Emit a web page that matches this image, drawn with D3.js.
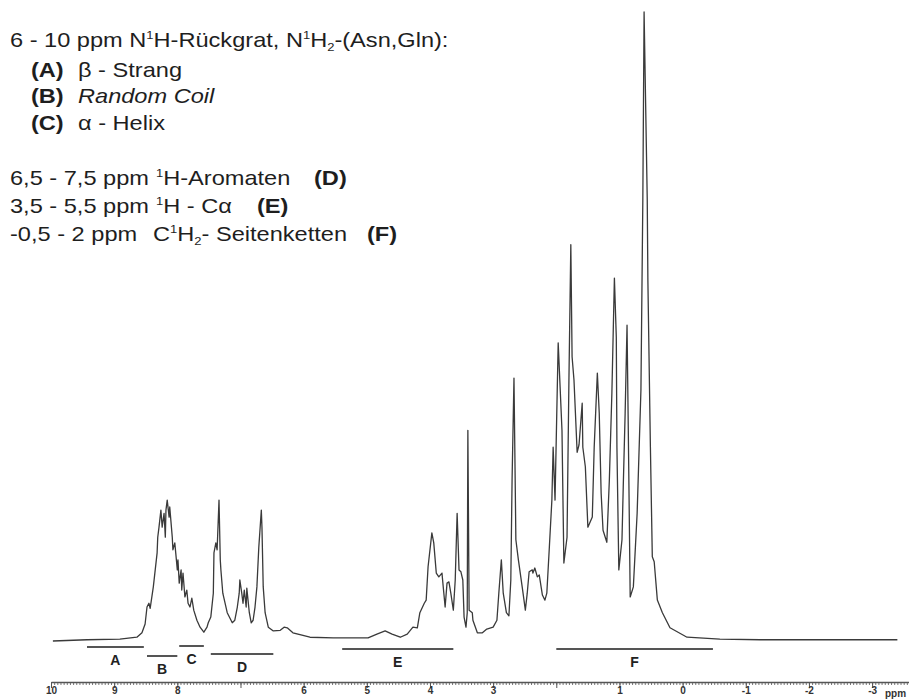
<!DOCTYPE html>
<html>
<head>
<meta charset="utf-8">
<script src="https://cdn.jsdelivr.net/npm/d3@7"></script>
<style>
  body { margin: 0; background: #fff; }
  svg { display: block; font-family: "Liberation Sans", Arial, sans-serif; }
</style>
</head>
<body>
<svg id="chart"></svg>
<script>
// 1H NMR spectrum (ppm, relative intensity 0..100)
const ppm = [
  9.97, 9.43, 8.91, 8.64, 8.56, 8.51, 8.48, 8.45, 8.43, 8.38, 8.32, 8.31, 8.29, 8.26, 8.24, 8.21,
  8.19, 8.18, 8.16, 8.13, 8.12, 8.08, 8.07, 8.04, 8.00, 7.99, 7.97, 7.94, 7.93, 7.91, 7.88, 7.85,
  7.83, 7.80, 7.77, 7.74, 7.69, 7.64, 7.58, 7.53, 7.51, 7.47, 7.43, 7.42, 7.39, 7.37, 7.34, 7.32,
  7.31, 7.28, 7.21, 7.13, 7.09, 7.05, 7.02, 7.01, 6.98, 6.96, 6.94, 6.91, 6.90, 6.86, 6.83, 6.80,
  6.77, 6.74, 6.71, 6.67, 6.66, 6.64, 6.61, 6.56, 6.48, 6.37, 6.31, 6.26, 6.17, 5.90, 5.53, 4.98,
  4.84, 4.71, 4.60, 4.47, 4.36, 4.27, 4.20, 4.16, 4.09, 4.06, 4.03, 3.97, 3.94, 3.90, 3.86, 3.81,
  3.79, 3.76, 3.73, 3.70, 3.67, 3.63, 3.60, 3.57, 3.54, 3.51, 3.48, 3.46, 3.43, 3.41, 3.40, 3.38,
  3.33, 3.32, 3.25, 3.17, 3.10, 3.00, 2.94, 2.91, 2.87, 2.84, 2.79, 2.75, 2.72, 2.70, 2.67, 2.64,
  2.60, 2.54, 2.49, 2.46, 2.43, 2.38, 2.37, 2.34, 2.30, 2.27, 2.22, 2.18, 2.15, 2.11, 2.07, 2.05,
  2.02, 1.97, 1.91, 1.88, 1.83, 1.80, 1.77, 1.75, 1.72, 1.67, 1.64, 1.59, 1.58, 1.54, 1.50, 1.43,
  1.40, 1.35, 1.32, 1.29, 1.26, 1.20, 1.16, 1.12, 1.08, 1.05, 1.04, 1.01, 0.96, 0.94, 0.91, 0.88,
  0.86, 0.83, 0.78, 0.72, 0.66, 0.63, 0.61, 0.56, 0.55, 0.51, 0.48, 0.45, 0.40, 0.32, 0.20, -0.07,
  -0.59, -1.23, -2.34, -3.40
];
const intensity = [
  0, 0.2, 0.3, 0.6, 1.3, 2.7, 5.4, 6.0, 5.2, 8.6, 14.0, 16.5, 18.1, 20.8, 18.1, 20.3,
  16.5, 20.8, 22.4, 19.7, 21.3, 16.5, 14.5, 15.6, 11.3, 12.9, 9.2, 11.3, 8.1, 10.8, 7.0, 8.1,
  6.0, 5.4, 6.8, 4.9, 3.3, 2.2, 1.4, 2.2, 2.9, 3.8, 7.6, 14.0, 15.6, 14.5, 22.4, 12.9,
  11.3, 7.6, 4.5, 2.9, 3.3, 5.4, 7.6, 9.7, 7.6, 6.0, 8.1, 5.4, 8.4, 4.5, 2.9, 3.3,
  5.4, 8.6, 14.9, 20.8, 18.1, 8.6, 4.5, 2.2, 1.6, 1.7, 2.2, 2.1, 1.3, 0.6, 0.5, 0.5,
  1.1, 1.6, 1.1, 0.6, 1.1, 2.2, 2.1, 4.5, 6.0, 6.5, 11.8, 17.2, 15.6, 10.8, 10.2, 10.8,
  8.6, 5.4, 9.2, 9.4, 7.6, 4.9, 9.7, 20.3, 11.3, 11.0, 9.7, 3.8, 2.2, 4.5, 33.5, 4.9,
  4.5, 3.3, 1.3, 1.3, 1.9, 2.2, 3.3, 7.6, 12.9, 7.6, 4.5, 4.0, 9.7, 25.6, 41.8, 16.1,
  12.9, 8.6, 4.9, 7.6, 11.0, 11.3, 10.8, 11.6, 10.2, 10.5, 7.3, 6.5, 7.6, 14.9, 22.4, 30.8,
  22.4, 47.4, 33.5, 12.4, 16.5, 41.5, 63.0, 45.2, 41.5, 30.0, 31.2, 37.8, 30.8, 27.7, 18.1, 19.7,
  30.8, 42.6, 36.2, 23.5, 17.6, 15.7, 25.6, 39.4, 57.7, 48.3, 30.8, 11.3, 16.1, 24.5, 36.2, 50.2,
  33.5, 7.0, 8.6, 20.3, 39.9, 70.1, 100, 70.1, 57.4, 30.8, 13.4, 12.6, 6.5, 4.5, 2.1, 0.6,
  0.3, 0.2, 0.2, 0.2
];

const majorTicks = [10, 9, 8, 7, 6, 5, 4, 3, 2, 1, 0, -1, -2, -3];
const tickLabels = ['10', '9', '8', '', '6', '5', '4', '3', '', '1', '0', '-1', '-2', '-3'];

const regionNames = ['A', 'B', 'C', 'D', 'E', 'F'];
const regionFrom  = [9.43, 8.48, 7.97, 7.47, 5.39, 2.00];
const regionTo    = [8.53, 8.00, 7.58, 6.48, 3.63, -0.48];

const W = 909, H = 700;
const svg = d3.select('#chart').attr('width', W).attr('height', H);

const x = d3.scaleLinear().domain([10, -3.6]).range([51, 910]);
const y = d3.scaleLinear().domain([0, 100]).range([641, 12]);

// spectrum trace
const pts = ppm.map((p, i) => [p, intensity[i]]);
svg.append('path').datum(pts)
  .attr('d', d3.line().x(d => x(d[0])).y(d => y(d[1])))
  .attr('fill', 'none').attr('stroke', '#3a3a3a').attr('stroke-width', 1.3)
  .attr('stroke-linejoin', 'round');

// region bars + letters (staggered rows like the original)
const tier = { A: 0, B: 9, C: -1, D: 7, E: 2, F: 2 };
regionNames.forEach((n, i) => {
  const yy = 647 + tier[n];
  svg.append('line')
    .attr('x1', x(regionFrom[i])).attr('x2', x(regionTo[i]))
    .attr('y1', yy).attr('y2', yy)
    .attr('stroke', '#555').attr('stroke-width', 2);
  svg.append('text')
    .attr('x', (x(regionFrom[i]) + x(regionTo[i])) / 2).attr('y', yy + 18)
    .attr('text-anchor', 'middle').attr('font-size', 14).attr('font-weight', 'bold')
    .attr('fill', '#222').text(n);
});

// ppm axis: fine ticks every 0.05, major at integers
const minor = d3.range(200, -73, -1).map(v => v / 20);
const axisY = 682;
svg.append('g').attr('transform', `translate(0,${axisY})`)
  .call(d3.axisBottom(x).tickValues(minor).tickSize(3).tickFormat(''))
  .call(g => g.select('.domain').remove())
  .selectAll('line').attr('stroke', '#777');
const ax = svg.append('g').attr('transform', `translate(0,${axisY})`)
  .call(d3.axisBottom(x).tickValues(majorTicks).tickSize(6).tickSizeOuter(0)
    .tickFormat((d, i) => tickLabels[i]));
ax.select('.domain').attr('stroke', '#555').attr('stroke-width', 1.3);
ax.selectAll('.tick line').attr('stroke', '#555');
ax.selectAll('.tick text').attr('font-size', 10).attr('font-weight', 'bold')
  .attr('fill', '#333').attr('dy', '0.3em')
  .attr('font-family', '"Liberation Sans", Arial, sans-serif');
svg.append('text').attr('x', 885).attr('y', 697).attr('font-size', 10)
  .attr('font-weight', 'bold').attr('fill', '#333').text('ppm');

// annotation block (the source lettering is a little wide, so stretch it)
const sx = 1.18;
const notes = svg.append('g').attr('transform', `scale(${sx},1)`);
function line(yPos, parts) {
  const t = notes.append('text').attr('y', yPos).attr('font-size', 20).attr('fill', '#1e1e1e');
  let off = 0;
  parts.forEach(p => {
    const s = t.append('tspan').text(p.t);
    if (p.x != null) s.attr('x', p.x / sx);
    if (p.b) s.attr('font-weight', 'bold');
    if (p.i) s.attr('font-style', 'italic');
    const target = p.s === 'sup' ? -8 : p.s === 'sub' ? 4 : 0;
    if (target !== off) { s.attr('dy', target - off); off = target; }
    if (p.s) s.attr('font-size', 11);
  });
}
line(47, [{ t: '6 - 10 ppm N', x: 10 }, { t: '1', s: 'sup' }, { t: 'H-Rückgrat, N' },
  { t: '1', s: 'sup' }, { t: 'H' }, { t: '2', s: 'sub' }, { t: '-(Asn,Gln):' }]);
line(77, [{ t: '(A)', x: 31, b: 1 }, { t: 'β - Strang', x: 78 }]);
line(103, [{ t: '(B)', x: 31, b: 1 }, { t: 'Random Coil', x: 78, i: 1 }]);
line(130, [{ t: '(C)', x: 31, b: 1 }, { t: 'α - Helix', x: 78 }]);
line(185, [{ t: '6,5 - 7,5 ppm', x: 10 }, { t: '1', x: 156, s: 'sup' }, { t: 'H-Aromaten' },
  { t: '(D)', x: 314, b: 1 }]);
line(213, [{ t: '3,5 - 5,5 ppm', x: 10 }, { t: '1', x: 156, s: 'sup' }, { t: 'H - Cα' },
  { t: '(E)', x: 257, b: 1 }]);
line(241, [{ t: '-0,5 - 2 ppm', x: 10 }, { t: 'C', x: 153 }, { t: '1', s: 'sup' }, { t: 'H' },
  { t: '2', s: 'sub' }, { t: '- Seitenketten' }, { t: '(F)', x: 367, b: 1 }]);
</script>
</body>
</html>
